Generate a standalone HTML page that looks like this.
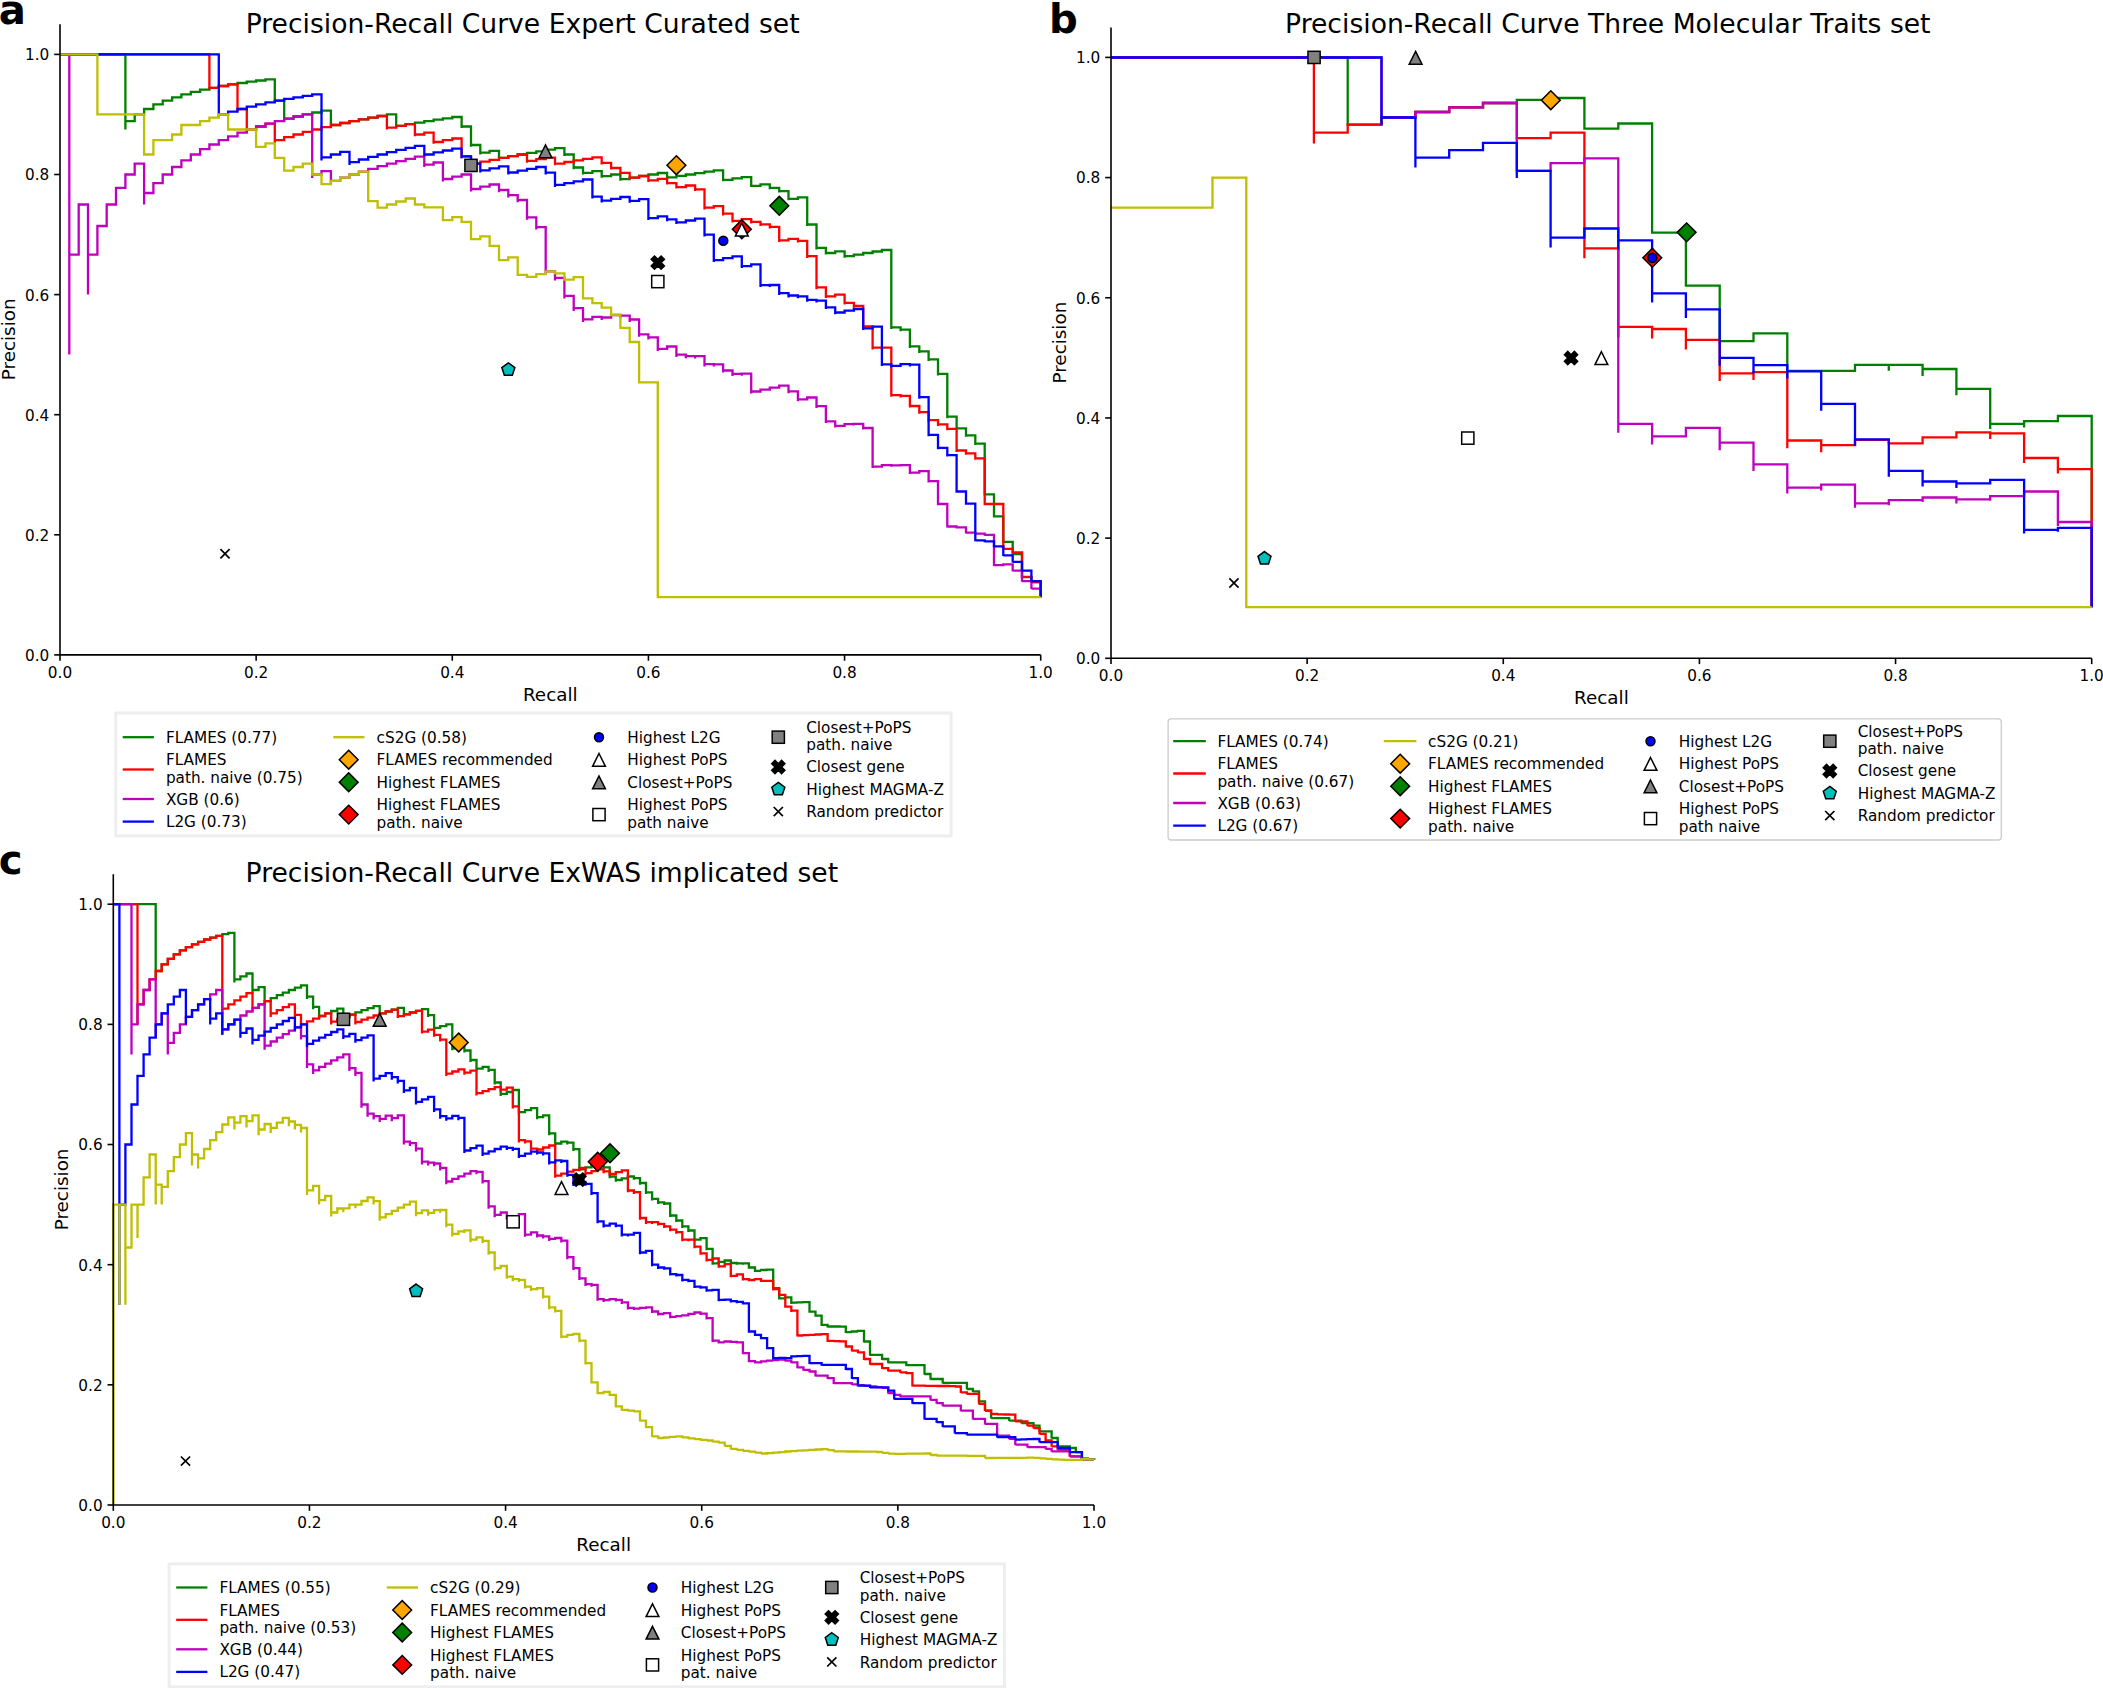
<!DOCTYPE html>
<html><head><meta charset="utf-8"><title>Precision-Recall Curves</title>
<style>html,body{margin:0;padding:0;background:#fff}svg{display:block}</style></head>
<body>
<svg width="2103" height="1688" viewBox="0 0 2103 1688" font-family="'DejaVu Sans', 'Liberation Sans', sans-serif">
<rect width="2103" height="1688" fill="#fff"/>
<path d="M60.0 54.4V54.4H69.3V54.4H78.7V54.4H88.0V54.4H97.4V54.4H106.7V54.4H116.0V54.4H125.4V129.5V121.1H134.7V114.4H144.1V109.0H153.4V104.4H162.7V100.6H172.1V97.3H181.4V94.4H190.8V91.9H200.1V89.7H209.4V87.8H218.8V86.0H228.1V84.4H237.5V83.0H246.8V81.7H256.1V80.5H265.5V79.4H274.8V102.4V100.6H284.2V121.1V118.7H293.5V116.5H302.8V114.4H312.2V112.5H321.5V110.7H330.9V127.2V125.0H340.2V123.0H349.5V121.1H358.9V119.3H368.2V117.6H377.6V116.0H386.9V114.4H396.2V127.6V125.9H405.6V124.2H414.9V122.6H424.3V121.1H433.6V119.7H442.9V118.3H452.3V117.0H461.6V127.9V126.5H471.0V146.8V145.0H480.3V154.5V152.7H489.6V150.9H499.0V159.8V157.9H508.3V156.2H517.7V154.5H527.0V152.8H536.3V151.3H545.7V149.7H555.0V148.2H564.4V156.0V154.5H573.7V169.2V167.5H583.0V174.5V172.8H592.4V171.2H601.7V177.8V176.1H611.1V174.5H620.4V180.8V179.2H629.7V177.6H639.1V176.0H648.4V174.5H657.8V173.0H667.1V178.9V177.4H676.4V175.9H685.8V174.5H695.1V173.1H704.5V171.7H713.8V170.4H723.1V181.2V179.8H732.5V178.4H741.8V177.1H751.2V187.1V185.8H760.5V184.4H769.8V189.2V187.8H779.2V192.5V191.1H788.5V200.2V198.8H797.9V197.4H807.2V226.0V224.5H816.5V249.6V247.9H825.9V254.6V253.0H835.2V251.4H844.6V257.7V256.1H853.9V254.6H863.2V253.0H872.6V251.5H881.9V250.0H891.3V329.0V327.4H900.6V331.3V329.6H909.9V347.9V346.3H919.3V353.0V351.4H928.6V361.0V359.4H938.0V375.5V373.9H947.3V418.2V416.7H956.6V429.7V428.3H966.0V436.7V435.3H975.3V445.1V443.7H984.7V495.5V494.3H994.0V517.5V516.4H1003.3V542.8V541.9H1012.7V554.8V554.0H1022.0V577.9V577.2H1031.4V582.6V582.0H1040.7V597.2" fill="none" stroke="#008000" stroke-width="2.3" stroke-linejoin="miter" stroke-linecap="butt"/>
<path d="M60.0 54.4V54.4H69.3V54.4H78.7V54.4H88.0V54.4H97.4V54.4H106.7V54.4H116.0V54.4H125.4V54.4H134.7V54.4H144.1V54.4H153.4V54.4H162.7V54.4H172.1V54.4H181.4V54.4H190.8V54.4H200.1V54.4H209.4V89.7V87.8H218.8V86.0H228.1V84.4H237.5V111.6V109.0H246.8V132.7V129.5H256.1V126.5H265.5V123.7H274.8V143.4V140.2H284.2V137.2H293.5V134.5H302.8V131.9H312.2V129.5H321.5V127.2H330.9V125.0H340.2V123.0H349.5V121.1H358.9V119.3H368.2V117.6H377.6V116.0H386.9V129.5V127.6H396.2V125.9H405.6V124.2H414.9V136.3V134.5H424.3V132.7H433.6V143.8V142.0H442.9V140.2H452.3V138.5H461.6V158.3V156.4H471.0V165.6V163.6H480.3V161.6H489.6V159.8H499.0V157.9H508.3V156.2H517.7V154.5H527.0V162.7V160.9H536.3V159.2H545.7V157.6H555.0V165.3V163.6H564.4V162.0H573.7V160.4H583.0V158.8H592.4V157.3H601.7V164.4V162.8H611.1V169.6V168.0H620.4V174.5V172.9H629.7V179.2V177.6H639.1V176.0H648.4V182.0V180.4H657.8V178.9H667.1V184.6V183.1H676.4V188.6V187.1H685.8V185.5H695.1V190.9V189.3H704.5V209.4V207.7H713.8V206.1H723.1V215.4V213.7H732.5V222.5V220.9H741.8V219.2H751.2V223.5V221.8H760.5V226.0V224.4H769.8V228.4V226.8H779.2V242.1V240.4H788.5V238.8H797.9V242.4V240.8H807.2V257.9V256.2H816.5V289.2V287.4H825.9V298.1V296.3H835.2V294.6H844.6V304.6V302.9H853.9V307.7V306.0H863.2V328.0V326.3H872.6V349.4V347.7H881.9V349.4V347.7H891.3V396.7V395.1H900.6V397.5V395.9H909.9V407.6V406.0H919.3V413.7V412.1H928.6V421.7V420.2H938.0V425.9V424.4H947.3V430.3V428.8H956.6V451.9V450.5H966.0V454.7V453.4H975.3V459.7V458.4H984.7V505.2V504.0H994.0V505.1V504.0H1003.3V549.8V548.9H1012.7V553.2V552.3H1022.0V577.6V576.9H1031.4V582.6V582.0H1040.7V597.2" fill="none" stroke="#ff0000" stroke-width="2.3" stroke-linejoin="miter" stroke-linecap="butt"/>
<path d="M60.0 54.4V54.4H69.3V354.6V254.6H78.7V204.5H88.0V294.6V254.6H97.4V226.0H106.7V204.5H116.0V187.8H125.4V174.5H134.7V163.6H144.1V204.5V193.0H153.4V183.1H162.7V174.5H172.1V167.0H181.4V160.4H190.8V154.5H200.1V149.2H209.4V144.5H218.8V140.2H228.1V136.3H237.5V132.7H246.8V129.5H256.1V126.5H265.5V123.7H274.8V121.1H284.2V118.7H293.5V116.5H302.8V114.4H312.2V178.0V174.5H321.5V171.2H330.9V184.2V180.8H340.2V177.6H349.5V174.5H358.9V171.6H368.2V168.8H377.6V166.1H386.9V163.6H396.2V161.2H405.6V158.8H414.9V156.6H424.3V167.0V164.7H433.6V162.5H442.9V181.4V179.0H452.3V176.7H461.6V174.5H471.0V191.4V189.0H480.3V186.7H489.6V184.5H499.0V192.2V190.0H508.3V197.4V195.1H517.7V202.2V200.0H527.0V219.8V217.4H536.3V229.5V227.1H545.7V274.1V271.4H555.0V280.5V277.8H564.4V298.6V295.9H573.7V310.9V308.2H583.0V321.9V319.3H592.4V316.8H601.7V320.0V317.5H611.1V315.0H620.4V318.2V315.7H629.7V321.9V319.5H639.1V336.7V334.3H648.4V339.6V337.3H657.8V351.1V348.8H667.1V346.5H676.4V356.9V354.6H685.8V358.3V356.1H695.1V358.4V356.2H704.5V366.4V364.2H713.8V366.4V364.3H723.1V372.5V370.5H732.5V376.0V373.9H741.8V375.7V373.7H751.2V393.5V391.5H760.5V389.6H769.8V387.6H779.2V385.7H788.5V393.2V391.3H797.9V401.2V399.4H807.2V397.5H816.5V408.0V406.2H825.9V423.1V421.3H835.2V427.5V425.8H844.6V424.1H853.9V425.5V423.8H863.2V429.6V428.0H872.6V468.0V466.6H881.9V465.1H891.3V466.7V465.3H900.6V466.6V465.2H909.9V474.0V472.6H919.3V471.2H928.6V482.4V481.1H938.0V505.2V504.0H947.3V527.6V526.5H956.6V528.4V527.3H966.0V533.6V532.7H975.3V534.6V533.6H984.7V535.8V534.8H994.0V565.9V565.1H1003.3V564.4H1012.7V571.3V570.6H1022.0V581.7V581.1H1031.4V589.1V588.6H1040.7V597.2" fill="none" stroke="#bf00bf" stroke-width="2.3" stroke-linejoin="miter" stroke-linecap="butt"/>
<path d="M60.0 54.4V54.4H69.3V54.4H78.7V54.4H88.0V54.4H97.4V54.4H106.7V54.4H116.0V54.4H125.4V54.4H134.7V54.4H144.1V54.4H153.4V54.4H162.7V54.4H172.1V54.4H181.4V54.4H190.8V54.4H200.1V54.4H209.4V54.4H218.8V117.6V114.4H228.1V111.6H237.5V109.0H246.8V106.6H256.1V104.4H265.5V102.4H274.8V100.6H284.2V98.9H293.5V97.3H302.8V95.8H312.2V94.4H321.5V160.4V157.3H330.9V154.5H340.2V151.8H349.5V165.0V162.2H358.9V159.5H368.2V156.9H377.6V154.5H386.9V152.2H396.2V149.9H405.6V147.8H414.9V145.8H424.3V156.6V154.5H433.6V152.4H442.9V150.5H452.3V148.6H461.6V158.3V156.4H471.0V165.6V163.6H480.3V172.4V170.3H489.6V168.3H499.0V166.4H508.3V174.5V172.5H517.7V170.6H527.0V168.8H536.3V167.0H545.7V174.5V172.7H555.0V186.9V184.9H564.4V183.1H573.7V181.3H583.0V179.5H592.4V198.5V196.6H601.7V202.6V200.7H611.1V198.8H620.4V197.0H629.7V202.7V200.9H639.1V199.1H648.4V220.1V218.2H657.8V216.3H667.1V221.2V219.4H676.4V224.1V222.3H685.8V220.5H695.1V218.7H704.5V236.4V234.6H713.8V262.0V260.1H723.1V258.2H732.5V256.4H741.8V268.0V266.1H751.2V264.3H760.5V286.9V285.1H769.8V286.9V285.0H779.2V295.1V293.2H788.5V297.4V295.5H797.9V298.2V296.4H807.2V301.7V299.9H816.5V302.4V300.6H825.9V309.1V307.3H835.2V314.2V312.5H844.6V310.7H853.9V309.0H863.2V330.1V328.4H872.6V326.7H881.9V366.1V364.4H891.3V367.6V365.9H900.6V364.2H909.9V366.4V364.7H919.3V398.8V397.2H928.6V436.3V434.8H938.0V449.3V447.9H947.3V456.5V455.1H956.6V492.7V491.5H966.0V504.8V503.6H975.3V541.3V540.4H984.7V542.3V541.4H994.0V547.3V546.4H1003.3V556.1V555.3H1012.7V562.5V561.8H1022.0V571.3V570.6H1031.4V581.7V581.1H1040.7V597.2" fill="none" stroke="#0000ff" stroke-width="2.3" stroke-linejoin="miter" stroke-linecap="butt"/>
<path d="M60.0 54.4V54.4H69.3V54.4H78.7V54.4H88.0V54.4H97.4V114.4H144.1V154.5H153.4V140.2H172.1V134.5H181.4V125.0H200.1V121.1H209.4V117.6H218.8V114.4H228.1V129.5H256.1V146.8H265.5V143.4H274.8V157.9H284.2V170.6H293.5V167.0H302.8V163.6H312.2V174.5H321.5V184.2H330.9V180.8H340.2V177.6H349.5V174.5H358.9V171.6H368.2V201.2H377.6V207.7H386.9V204.5H396.2V201.5H405.6V198.5H414.9V204.5H424.3V207.3H442.9V220.1H452.3V217.2H461.6V221.8H471.0V239.2H480.3V236.4H489.6V245.9H499.0V260.1H508.3V257.3H517.7V274.8H527.0V276.8H536.3V274.1H545.7V271.4H555.0V273.4H564.4V279.6H573.7V277.1H583.0V298.4H592.4V303.1H601.7V307.6H611.1V315.0H620.4V327.8H629.7V342.0H639.1V382.3H657.8V597.2H1040.7" fill="none" stroke="#bfbf00" stroke-width="2.3" stroke-linejoin="miter" stroke-linecap="butt"/>
<g stroke="#000" stroke-width="1.6" fill="none">
<path d="M60.0 24.3V654.9"/>
<path d="M60.0 654.9H1040.7"/>
<path d="M60.00 654.9v5.8"/>
<path d="M60.0 654.90h-5.8"/>
<path d="M256.14 654.9v5.8"/>
<path d="M60.0 534.80h-5.8"/>
<path d="M452.28 654.9v5.8"/>
<path d="M60.0 414.70h-5.8"/>
<path d="M648.42 654.9v5.8"/>
<path d="M60.0 294.60h-5.8"/>
<path d="M844.56 654.9v5.8"/>
<path d="M60.0 174.50h-5.8"/>
<path d="M1040.70 654.9v5.8"/>
<path d="M60.0 54.40h-5.8"/>
</g>
<g font-size="15.28" fill="#000">
<text x="60.00" y="677.70" text-anchor="middle">0.0</text>
<text x="49.30" y="660.80" text-anchor="end">0.0</text>
<text x="256.14" y="677.70" text-anchor="middle">0.2</text>
<text x="49.30" y="540.70" text-anchor="end">0.2</text>
<text x="452.28" y="677.70" text-anchor="middle">0.4</text>
<text x="49.30" y="420.60" text-anchor="end">0.4</text>
<text x="648.42" y="677.70" text-anchor="middle">0.6</text>
<text x="49.30" y="300.50" text-anchor="end">0.6</text>
<text x="844.56" y="677.70" text-anchor="middle">0.8</text>
<text x="49.30" y="180.40" text-anchor="end">0.8</text>
<text x="1040.70" y="677.70" text-anchor="middle">1.0</text>
<text x="49.30" y="60.30" text-anchor="end">1.0</text>
</g>
<path d="M1111.0 57.5H1347.7V124.6H1381.5V117.5H1415.4V112.0H1449.2V107.3H1483.0V103.0H1516.8V99.9H1550.6V98.0H1584.4V128.6H1618.3V123.5H1652.1V232.7H1685.9V285.6H1719.7V341.1H1753.5V333.4H1787.3V370.8H1855.0V364.9H1888.8V370.8V364.9H1922.6V376.0V369.0H1956.4V395.3V388.9H1990.2V428.9V423.8H2024.1V427.6V421.2H2057.9V416.0H2091.7V607.2" fill="none" stroke="#008000" stroke-width="2.3" stroke-linejoin="miter" stroke-linecap="butt"/>
<path d="M1111.0 57.5H1313.9V143.6V132.7H1347.7V124.6H1381.5V117.5H1415.4V112.0H1449.2V107.3H1483.0V103.0H1516.8V138.2H1550.6V132.7H1584.4V258.2V248.3H1618.3V337.3V326.9H1652.1V338.5V329.0H1685.9V349.6V339.8H1719.7V381.1V373.4H1753.5V379.9V372.1H1787.3V448.3V440.5H1821.2V452.2V445.2H1855.0V439.9H1888.8V443.3H1922.6V437.3H1956.4V432.4H1990.2V438.9V433.4H2024.1V463.1V458.0H2057.9V473.5V469.1H2091.7V607.2" fill="none" stroke="#ff0000" stroke-width="2.3" stroke-linejoin="miter" stroke-linecap="butt"/>
<path d="M1111.0 57.5H1381.5V117.5H1415.4V112.0H1449.2V107.3H1483.0V103.0H1516.8V170.8H1550.6V163.1H1584.4V158.4H1618.3V432.8V423.8H1652.1V444.5V436.3H1685.9V427.8H1719.7V450.2V442.7H1753.5V470.9V464.4H1787.3V493.6V487.7H1821.2V490.5V484.6H1855.0V507.8V503.4H1888.8V505.2V500.1H1922.6V501.9V497.5H1956.4V503.4V499.3H1990.2V500.8V496.2H2024.1V491.5H2057.9V525.9V522.0H2091.7V607.2" fill="none" stroke="#bf00bf" stroke-width="2.3" stroke-linejoin="miter" stroke-linecap="butt"/>
<path d="M1111.0 57.5H1381.5V125.1V117.5H1415.4V167.4V157.7H1449.2V150.1H1483.0V142.9H1516.8V177.9V170.8H1550.6V247.5V237.6H1584.4V228.5H1618.3V249.5V240.4H1652.1V302.4V293.4H1685.9V317.9V309.4H1719.7V365.7V357.9H1753.5V373.4V365.1H1787.3V378.6V371.3H1821.2V410.8V403.9H1855.0V445.8V439.4H1888.8V476.8V470.9H1922.6V486.6V481.5H1956.4V487.9V483.3H1990.2V479.9H2024.1V533.6V529.8H2057.9V531.8V527.9H2091.7V607.2" fill="none" stroke="#0000ff" stroke-width="2.3" stroke-linejoin="miter" stroke-linecap="butt"/>
<path d="M1111.0 207.7H1212.5V177.6H1246.3V607.2H2091.7" fill="none" stroke="#bfbf00" stroke-width="2.3" stroke-linejoin="miter" stroke-linecap="butt"/>
<g stroke="#000" stroke-width="1.6" fill="none">
<path d="M1111.0 27.4V658.3"/>
<path d="M1111.0 658.3H2091.7"/>
<path d="M1111.00 658.3v5.8"/>
<path d="M1111.0 658.30h-5.8"/>
<path d="M1307.14 658.3v5.8"/>
<path d="M1111.0 538.12h-5.8"/>
<path d="M1503.28 658.3v5.8"/>
<path d="M1111.0 417.94h-5.8"/>
<path d="M1699.42 658.3v5.8"/>
<path d="M1111.0 297.76h-5.8"/>
<path d="M1895.56 658.3v5.8"/>
<path d="M1111.0 177.58h-5.8"/>
<path d="M2091.70 658.3v5.8"/>
<path d="M1111.0 57.40h-5.8"/>
</g>
<g font-size="15.28" fill="#000">
<text x="1111.00" y="681.10" text-anchor="middle">0.0</text>
<text x="1100.30" y="664.20" text-anchor="end">0.0</text>
<text x="1307.14" y="681.10" text-anchor="middle">0.2</text>
<text x="1100.30" y="544.02" text-anchor="end">0.2</text>
<text x="1503.28" y="681.10" text-anchor="middle">0.4</text>
<text x="1100.30" y="423.84" text-anchor="end">0.4</text>
<text x="1699.42" y="681.10" text-anchor="middle">0.6</text>
<text x="1100.30" y="303.66" text-anchor="end">0.6</text>
<text x="1895.56" y="681.10" text-anchor="middle">0.8</text>
<text x="1100.30" y="183.48" text-anchor="end">0.8</text>
<text x="2091.70" y="681.10" text-anchor="middle">1.0</text>
<text x="1100.30" y="63.30" text-anchor="end">1.0</text>
</g>
<path d="M113.3 904.2V904.2H119.4V904.2H125.4V904.2H131.5V904.2H137.5V904.2H143.6V904.2H149.6V904.2H155.7V979.3V971.0H161.7V964.3H167.8V958.8H173.8V954.3H179.9V950.4H185.9V947.1H192.0V944.3H198.1V941.8H204.1V939.5H210.2V937.6H216.2V935.8H222.3V934.2H228.3V932.8H234.4V982.6V979.3H240.4V976.3H246.5V973.5H252.5V993.2V990.0H258.6V987.1H264.6V1004.3V1001.1H270.7V998.1H276.8V995.2H282.8V992.6H288.9V990.0H294.9V987.6H301.0V985.4H307.0V999.1V996.6H313.1V1009.3V1006.8H319.1V1018.6V1016.0H325.2V1013.4H331.2V1011.0H337.3V1008.7H343.3V1019.2V1016.9H349.4V1014.6H355.4V1012.3H361.5V1010.2H367.6V1008.2H373.6V1006.2H379.7V1015.5V1013.4H385.7V1011.5H391.8V1009.6H397.8V1007.8H403.9V1016.2V1014.3H409.9V1012.5H416.0V1010.8H422.0V1009.1H428.1V1016.9V1015.1H434.1V1029.7V1027.9H440.2V1026.1H446.3V1024.4H452.3V1050.3V1048.4H458.4V1046.5H464.4V1052.4V1050.5H470.5V1061.9V1060.0H476.5V1070.7V1068.7H482.6V1066.8H488.6V1071.9V1069.9H494.7V1084.4V1082.5H500.7V1095.9V1093.9H506.8V1092.0H512.8V1090.0H518.9V1114.2V1112.2H525.0V1110.2H531.0V1108.2H537.1V1119.2V1117.2H543.1V1115.3H549.2V1135.3V1133.3H555.2V1145.5V1143.5H561.3V1141.6H567.3V1144.5V1142.6H573.4V1151.0V1149.1H579.4V1171.2V1169.3H585.5V1167.4H591.5V1165.6H597.6V1163.7H603.6V1169.1V1167.3H609.7V1178.3V1176.5H615.8V1181.8V1180.0H621.8V1178.3H627.9V1176.5H633.9V1179.8V1178.1H640.0V1184.7V1183.0H646.0V1194.0V1192.3H652.1V1200.5V1198.8H658.1V1203.9V1202.3H664.2V1205.1V1203.5H670.2V1217.1V1215.5H676.3V1222.1V1220.5H682.3V1227.9V1226.3H688.4V1232.0V1230.5H694.5V1241.2V1239.6H700.5V1238.1H706.6V1250.3V1248.8H712.6V1264.8V1263.3H718.7V1261.9H724.7V1260.5H730.8V1264.4V1263.0H736.8V1264.7V1263.3H742.9V1264.7V1263.3H748.9V1268.8V1267.5H755.0V1272.1V1270.8H761.0V1271.3V1270.0H767.1V1270.9V1269.6H773.2V1289.5V1288.2H779.2V1299.5V1298.3H785.3V1298.7V1297.4H791.3V1303.9V1302.7H797.4V1303.6V1302.4H803.4V1303.3V1302.1H809.5V1312.7V1311.6H815.5V1316.8V1315.7H821.6V1326.0V1324.9H827.6V1327.6V1326.5H833.7V1327.6V1326.5H839.7V1327.6V1326.6H845.8V1333.1V1332.1H851.9V1332.5V1331.5H857.9V1331.9V1330.9H864.0V1342.5V1341.5H870.0V1355.7V1354.8H876.1V1355.7V1354.8H882.1V1359.9V1359.0H888.2V1363.2V1362.3H894.2V1363.2V1362.3H900.3V1363.1V1362.3H906.3V1366.0V1365.2H912.4V1366.0V1365.2H918.4V1366.0V1365.2H924.5V1374.7V1374.0H930.5V1379.7V1379.0H936.6V1379.7V1379.0H942.7V1383.5V1382.8H948.7V1383.5V1382.8H954.8V1383.5V1382.8H960.8V1383.5V1382.8H966.9V1389.6V1389.0H972.9V1392.1V1391.4H979.0V1402.0V1401.4H985.0V1411.1V1410.6H991.1V1418.6V1418.1H997.1V1418.6V1418.1H1003.2V1418.6V1418.1H1009.2V1421.1V1420.6H1015.3V1421.1V1420.6H1021.4V1423.5V1423.1H1027.4V1423.5V1423.1H1033.5V1426.0V1425.6H1039.5V1431.8V1431.4H1045.6V1431.8V1431.4H1051.6V1438.4V1438.0H1057.7V1446.7V1446.4H1063.7V1446.7V1446.4H1069.8V1448.4V1448.0H1075.8V1452.5V1452.2H1081.9V1459.3V1459.0H1087.9V1459.8V1459.5H1094.0V1459.7" fill="none" stroke="#008000" stroke-width="2.3" stroke-linejoin="miter" stroke-linecap="butt"/>
<path d="M113.3 904.2V904.2H119.4V904.2H125.4V904.2H131.5V904.2H137.5V1024.4V1004.3H143.6V990.0H149.6V979.3H155.7V971.0H161.7V964.3H167.8V958.8H173.8V954.3H179.9V950.4H185.9V947.1H192.0V944.3H198.1V941.8H204.1V939.5H210.2V937.6H216.2V935.8H222.3V1013.4V1008.7H228.3V1004.3H234.4V1000.3H240.4V996.6H246.5V993.2H252.5V1011.5V1007.8H258.6V1004.3H264.6V1001.1H270.7V1016.9V1013.4H276.8V1010.2H282.8V1007.2H288.9V1004.3H294.9V1017.9V1014.9H301.0V1027.4V1024.4H307.0V1021.4H313.1V1018.6H319.1V1016.0H325.2V1013.4H331.2V1024.4V1021.7H337.3V1019.2H343.3V1016.9H349.4V1014.6H355.4V1024.4V1022.0H361.5V1019.7H367.6V1017.6H373.6V1015.5H379.7V1013.4H385.7V1011.5H391.8V1009.6H397.8V1018.1V1016.2H403.9V1014.3H409.9V1012.5H416.0V1010.8H422.0V1033.6V1031.6H428.1V1029.7H434.1V1036.7V1034.8H440.2V1041.5V1039.6H446.3V1075.9V1073.7H452.3V1071.5H458.4V1069.4H464.4V1074.8V1072.7H470.5V1070.7H476.5V1095.4V1093.2H482.6V1091.1H488.6V1089.1H494.7V1087.1H500.7V1091.5V1089.6H506.8V1087.6H512.8V1108.5V1106.4H518.9V1142.4V1140.2H525.0V1143.5V1141.4H531.0V1150.7V1148.6H537.1V1151.6V1149.5H543.1V1147.5H549.2V1145.5H555.2V1177.7V1175.7H561.3V1173.7H567.3V1171.7H573.4V1169.8H579.4V1167.9H585.5V1175.0V1173.1H591.5V1171.2H597.6V1169.4H603.6V1173.3V1171.4H609.7V1175.7V1173.9H615.8V1172.1H621.8V1170.3H627.9V1192.3V1190.5H633.9V1193.9V1192.2H640.0V1219.7V1218.0H646.0V1223.9V1222.2H652.1V1223.9V1222.2H658.1V1225.6V1223.9H664.2V1228.0V1226.4H670.2V1231.2V1229.6H676.3V1233.8V1232.2H682.3V1241.2V1239.7H688.4V1241.2V1239.7H694.5V1248.2V1246.7H700.5V1254.8V1253.3H706.6V1261.4V1259.9H712.6V1258.5H718.7V1267.7V1266.3H724.7V1264.1H730.8V1277.2V1275.8H736.8V1274.4H742.9V1280.5V1279.1H748.9V1281.3V1280.0H755.0V1280.4V1279.1H761.0V1282.1V1280.8H767.1V1282.1V1280.8H773.2V1290.4V1289.1H779.2V1296.1V1294.9H785.3V1307.8V1306.6H791.3V1311.9V1310.7H797.4V1336.6V1335.5H803.4V1336.3V1335.2H809.5V1335.9V1334.9H815.5V1335.6V1334.5H821.6V1335.2V1334.1H827.6V1341.9V1340.9H833.7V1342.1V1341.1H839.7V1342.4V1341.4H845.8V1347.5V1346.5H851.9V1351.6V1350.7H857.9V1353.3V1352.3H864.0V1359.9V1359.0H870.0V1364.8V1364.0H876.1V1364.8V1364.0H882.1V1369.0V1368.1H888.2V1371.5V1370.7H894.2V1371.4V1370.6H900.3V1373.1V1372.3H906.3V1373.9V1373.2H912.4V1386.4V1385.7H918.4V1386.5V1385.7H924.5V1386.5V1385.8H930.5V1386.6V1385.9H936.6V1386.7V1386.0H942.7V1386.7V1386.0H948.7V1386.8V1386.1H954.8V1387.1V1386.5H960.8V1392.9V1392.3H966.9V1394.6V1393.9H972.9V1394.6V1393.9H979.0V1404.5V1403.9H985.0V1411.1V1410.6H991.1V1414.6V1414.0H997.1V1414.8V1414.3H1003.2V1415.0V1414.5H1009.2V1415.2V1414.7H1015.3V1421.9V1421.4H1021.4V1421.9V1421.4H1027.4V1426.0V1425.6H1033.5V1428.5V1428.1H1039.5V1434.3V1433.9H1045.6V1440.9V1440.5H1051.6V1446.7V1446.4H1057.7V1450.0V1449.7H1063.7V1450.0V1449.7H1069.8V1456.6V1456.4H1075.8V1456.6V1456.4H1081.9V1459.3V1459.0H1087.9V1459.8V1459.5H1094.0V1459.7" fill="none" stroke="#ff0000" stroke-width="2.3" stroke-linejoin="miter" stroke-linecap="butt"/>
<path d="M113.3 904.2V904.2H119.4V904.2H125.4V904.2H131.5V1054.4V1024.4H137.5V1004.3H143.6V990.0H149.6V979.3H155.7V1037.7V1024.4H161.7V1013.4H167.8V1054.4V1042.8H173.8V1032.9H179.9V1024.4H185.9V1016.9H192.0V1010.2H198.1V1004.3H204.1V999.1H210.2V994.3H216.2V990.0H222.3V1034.8V1029.4H228.3V1024.4H234.4V1019.7H240.4V1015.5H246.5V1011.5H252.5V1007.8H258.6V1004.3H264.6V1049.8V1045.6H270.7V1041.5H276.8V1037.7H282.8V1034.1H288.9V1030.7H294.9V1027.4H301.0V1039.4V1036.1H307.0V1068.1V1064.4H313.1V1074.0V1070.4H319.1V1066.9H325.2V1063.6H331.2V1060.4H337.3V1057.3H343.3V1054.4H349.4V1071.1V1068.1H355.4V1075.9V1072.8H361.5V1107.7V1104.5H367.6V1116.8V1113.6H373.6V1119.4V1116.2H379.7V1121.9V1118.8H385.7V1115.7H391.8V1121.2V1118.2H397.8V1115.3H403.9V1144.5V1141.6H409.9V1146.0V1143.1H416.0V1151.6V1148.7H422.0V1164.5V1161.7H428.1V1165.4V1162.6H434.1V1166.3V1163.5H440.2V1170.5V1167.8H446.3V1184.2V1181.5H452.3V1178.9H458.4V1176.3H464.4V1173.7H470.5V1171.2H476.5V1174.3V1171.8H482.6V1183.5V1181.1H488.6V1208.7V1206.3H494.7V1217.2V1214.8H500.7V1212.5H506.8V1219.5V1217.2H512.8V1218.7V1216.4H518.9V1214.2H525.0V1236.8V1234.6H531.0V1232.4H537.1V1237.6V1235.5H543.1V1238.4V1236.3H549.2V1240.9V1238.9H555.2V1240.0V1238.0H561.3V1242.5V1240.6H567.3V1259.2V1257.2H573.4V1270.1V1268.2H579.4V1280.1V1278.3H585.5V1285.9V1284.1H591.5V1286.7V1284.9H597.6V1300.7V1299.1H603.6V1301.9V1300.2H609.7V1300.7V1299.1H615.8V1301.5V1299.9H621.8V1304.0V1302.4H627.9V1309.4V1307.9H633.9V1310.1V1308.6H640.0V1309.4V1307.9H646.0V1308.9V1307.4H652.1V1313.0V1311.5H658.1V1315.5V1314.0H664.2V1314.6V1313.2H670.2V1318.3V1316.9H676.3V1317.6V1316.2H682.3V1316.6V1315.3H688.4V1313.9H694.5V1312.5H700.5V1314.9V1313.6H706.6V1319.5V1318.2H712.6V1341.9V1340.7H718.7V1343.5V1342.4H724.7V1342.7V1341.5H730.8V1343.0V1341.9H736.8V1343.5V1342.4H742.9V1354.3V1353.2H748.9V1362.2V1361.1H755.0V1363.4V1362.3H761.0V1361.3H767.1V1361.7V1360.7H773.2V1361.2V1360.2H779.2V1360.5V1359.5H785.3V1361.6V1360.7H791.3V1363.3V1362.3H797.4V1368.3V1367.3H803.4V1370.7V1369.8H809.5V1372.4V1371.5H815.5V1376.5V1375.6H821.6V1376.5V1375.6H827.6V1379.0V1378.1H833.7V1383.9V1383.1H839.7V1383.9V1383.1H845.8V1383.9V1383.1H851.9V1385.1V1384.3H857.9V1385.8V1385.1H864.0V1386.5V1385.8H870.0V1387.2V1386.5H876.1V1387.9V1387.2H882.1V1388.6V1387.9H888.2V1393.8V1393.1H894.2V1395.5V1394.8H900.3V1397.1V1396.4H906.3V1397.1V1396.4H912.4V1397.1V1396.4H918.4V1397.1V1396.4H924.5V1397.1V1396.4H930.5V1400.4V1399.8H936.6V1403.7V1403.1H942.7V1406.2V1405.6H948.7V1406.2V1405.6H954.8V1406.2V1405.6H960.8V1411.2V1410.6H966.9V1411.1V1410.6H972.9V1419.4V1418.9H979.0V1419.4V1418.9H985.0V1424.4V1423.9H991.1V1424.4V1423.9H997.1V1436.0V1435.6H1003.2V1436.0V1435.6H1009.2V1439.3V1438.9H1015.3V1445.1V1444.7H1021.4V1445.1V1444.7H1027.4V1447.5V1447.2H1033.5V1447.5V1447.2H1039.5V1447.5V1447.2H1045.6V1449.2V1448.9H1051.6V1451.7V1451.4H1057.7V1451.7V1451.4H1063.7V1451.7V1451.4H1069.8V1456.6V1456.4H1075.8V1456.6V1456.4H1081.9V1459.3V1459.0H1087.9V1459.8V1459.5H1094.0V1459.7" fill="none" stroke="#bf00bf" stroke-width="2.3" stroke-linejoin="miter" stroke-linecap="butt"/>
<path d="M113.3 904.2V904.2H119.4V1304.7V1204.6H125.4V1144.5H131.5V1104.5H137.5V1075.9H143.6V1054.4H149.6V1037.7H155.7V1024.4H161.7V1013.4H167.8V1004.3H173.8V996.6H179.9V990.0H185.9V1024.4V1016.9H192.0V1010.2H198.1V1004.3H204.1V999.1H210.2V1024.4V1018.6H216.2V1013.4H222.3V1034.8V1029.4H228.3V1024.4H234.4V1019.7H240.4V1037.7V1032.9H246.5V1028.5H252.5V1044.4V1039.9H258.6V1035.6H264.6V1031.6H270.7V1027.9H276.8V1024.4H282.8V1021.0H288.9V1017.9H294.9V1030.7V1027.4H301.0V1024.4H307.0V1047.2V1043.9H313.1V1040.7H319.1V1037.7H325.2V1034.8H331.2V1032.0H337.3V1029.4H343.3V1039.1V1036.4H349.4V1033.8H355.4V1042.8V1040.2H361.5V1037.7H367.6V1035.3H373.6V1081.5V1078.6H379.7V1075.9H385.7V1073.2H391.8V1079.8V1077.2H397.8V1083.5V1080.9H403.9V1093.0V1090.4H409.9V1087.8H416.0V1104.5V1101.8H422.0V1099.3H428.1V1096.8H434.1V1111.9V1109.4H440.2V1118.8V1116.2H446.3V1120.8V1118.3H452.3V1115.8H458.4V1120.2V1117.8H464.4V1153.0V1150.5H470.5V1148.1H476.5V1145.7H482.6V1156.0V1153.6H488.6V1151.3H494.7V1149.0H500.7V1146.7H506.8V1150.0V1147.8H512.8V1151.0V1148.8H518.9V1158.0V1155.8H525.0V1153.7H531.0V1151.6H537.1V1154.5V1152.5H543.1V1155.4V1153.3H549.2V1164.4V1162.4H555.2V1160.4H561.3V1163.0V1161.0H567.3V1176.8V1174.8H573.4V1185.9V1184.0H579.4V1182.0H585.5V1185.8V1183.9H591.5V1195.0V1193.1H597.6V1223.3V1221.4H603.6V1227.4V1225.6H609.7V1223.7H615.8V1227.3V1225.6H621.8V1236.4V1234.7H627.9V1236.4V1234.6H633.9V1232.9H640.0V1254.2V1252.5H646.0V1250.9H652.1V1266.3V1264.7H658.1V1269.1V1267.5H664.2V1269.8V1268.3H670.2V1275.6V1274.1H676.3V1276.5V1275.0H682.3V1281.4V1279.9H688.4V1282.2V1280.8H694.5V1288.0V1286.6H700.5V1288.8V1287.4H706.6V1291.8V1290.4H712.6V1291.3V1289.9H718.7V1301.3V1299.9H724.7V1300.9V1299.6H730.8V1302.6V1301.2H736.8V1303.2V1301.9H742.9V1304.5V1303.3H748.9V1332.7V1331.5H755.0V1336.0V1334.8H761.0V1339.3V1338.2H767.1V1349.2V1348.2H773.2V1359.2V1358.2H779.2V1358.8V1357.8H785.3V1359.2V1358.2H791.3V1356.3H797.4V1357.1V1356.1H803.4V1356.8V1355.8H809.5V1364.1V1363.1H815.5V1364.1V1363.2H821.6V1365.7V1364.8H827.6V1365.7V1364.8H833.7V1365.7V1364.8H839.7V1365.7V1364.8H845.8V1369.9V1369.0H851.9V1379.0V1378.1H857.9V1386.4V1385.6H864.0V1386.4V1385.6H870.0V1388.0V1387.3H876.1V1388.0V1387.3H882.1V1388.0V1387.3H888.2V1391.3V1390.6H894.2V1399.6V1398.9H900.3V1399.6V1398.9H906.3V1399.6V1398.9H912.4V1403.7V1403.1H918.4V1403.7V1403.1H924.5V1419.5V1418.9H930.5V1419.5V1418.9H936.6V1422.8V1422.2H942.7V1426.9V1426.4H948.7V1426.9V1426.4H954.8V1433.5V1433.1H960.8V1433.5V1433.1H966.9V1435.2V1434.7H972.9V1435.2V1434.7H979.0V1435.2V1434.7H985.0V1435.2V1434.7H991.1V1435.1V1434.7H997.1V1437.6V1437.2H1003.2V1437.6V1437.2H1009.2V1437.6V1437.2H1015.3V1440.0V1439.6H1021.4V1439.8V1439.4H1027.4V1439.6V1439.2H1033.5V1439.3V1439.0H1039.5V1442.6V1442.2H1045.6V1442.6V1442.2H1051.6V1442.6V1442.2H1057.7V1448.4V1448.0H1063.7V1448.4V1448.0H1069.8V1452.5V1452.2H1075.8V1452.5V1452.2H1081.9V1459.3V1459.0H1087.9V1459.8V1459.5H1094.0V1459.7" fill="none" stroke="#0000ff" stroke-width="2.3" stroke-linejoin="miter" stroke-linecap="butt"/>
<path d="M113.3 1505.0V1505.0V1204.6H119.4V1304.7V1204.6H125.4V1304.7V1247.5H131.5V1204.6H137.5V1238.0V1204.6H143.6V1177.3H149.6V1154.5H155.7V1204.6V1184.6H161.7V1204.6V1186.9H167.8V1171.2H173.8V1157.2H179.9V1144.5H185.9V1133.1H192.0V1165.4V1154.5H198.1V1168.6V1158.4H204.1V1149.0H210.2V1140.2H216.2V1132.1H222.3V1124.5H228.3V1117.4H234.4V1129.5V1122.7H240.4V1116.2H246.5V1127.4V1121.2H252.5V1115.3H258.6V1135.3V1129.5H264.6V1124.0H270.7V1133.1V1127.8H276.8V1122.7H282.8V1117.8H288.9V1126.2V1121.5H294.9V1129.5V1124.9H301.0V1132.5V1128.0H307.0V1194.9V1190.3H313.1V1185.8H319.1V1204.6V1200.2H325.2V1196.0H331.2V1216.6V1212.5H337.3V1208.5H343.3V1212.3V1208.4H349.4V1204.6H355.4V1208.3V1204.6H361.5V1201.0H367.6V1197.4H373.6V1204.6V1201.1H379.7V1220.8V1217.4H385.7V1214.1H391.8V1210.9H397.8V1207.7H403.9V1204.6H409.9V1201.6H416.0V1216.2V1213.2H422.0V1210.3H428.1V1215.7V1212.9H434.1V1210.1H440.2V1212.7V1210.0H446.3V1227.3V1224.6H452.3V1236.5V1233.9H458.4V1231.3H464.4V1233.0V1230.4H470.5V1242.2V1239.7H476.5V1237.3H482.6V1243.2V1240.8H488.6V1254.8V1252.5H494.7V1270.5V1268.2H500.7V1266.0H506.8V1278.7V1276.6H512.8V1281.2V1279.1H518.9V1282.0V1279.9H525.0V1288.6V1286.6H531.0V1291.1V1289.1H537.1V1290.2V1288.2H543.1V1298.5V1296.6H549.2V1309.3V1307.4H555.2V1312.6V1310.8H561.3V1338.2V1336.6H567.3V1334.9H573.4V1335.6V1334.0H579.4V1342.2V1340.7H585.5V1364.5V1363.1H591.5V1383.5V1382.3H597.6V1394.3V1393.1H603.6V1391.8H609.7V1395.9V1394.8H615.8V1407.4V1406.4H621.8V1410.7V1409.8H627.9V1411.5V1410.6H633.9V1412.3V1411.4H640.0V1421.4V1420.6H646.0V1428.0V1427.2H652.1V1437.1V1436.4H658.1V1438.7V1438.0H664.2V1438.1V1437.5H670.2V1437.6V1436.9H676.3V1437.0V1436.4H682.3V1438.0V1437.4H688.4V1439.0V1438.4H694.5V1439.7V1439.1H700.5V1440.4V1439.8H706.6V1441.1V1440.5H712.6V1442.2V1441.6H718.7V1443.3V1442.7H724.7V1446.3V1445.8H730.8V1449.4V1448.9H736.8V1450.3V1449.8H742.9V1451.2V1450.8H748.9V1452.2V1451.7H755.0V1453.1V1452.6H761.0V1454.0V1453.5H767.1V1453.1H773.2V1452.7H779.2V1452.2H785.3V1451.5H791.3V1451.6V1451.1H797.4V1451.2V1450.7H803.4V1450.8V1450.3H809.5V1450.4V1449.9H815.5V1449.9V1449.5H821.6V1449.5V1449.1H827.6V1450.5V1450.1H833.7V1451.8V1451.4H839.7V1451.8V1451.4H845.8V1451.9V1451.5H851.9V1451.9V1451.5H857.9V1452.0V1451.6H864.0V1452.0V1451.6H870.0V1452.1V1451.7H876.1V1452.4V1452.0H882.1V1453.2V1452.8H888.2V1454.0V1453.6H894.2V1454.2V1453.8H900.3V1454.1V1453.8H906.3V1454.1V1453.7H912.4V1454.0V1453.7H918.4V1454.0V1453.6H924.5V1453.9V1453.5H930.5V1455.4V1455.0H936.6V1455.9V1455.6H942.7V1455.9V1455.6H948.7V1456.0V1455.6H954.8V1456.0V1455.7H960.8V1456.0V1455.7H966.9V1456.1V1455.8H972.9V1456.1V1455.8H979.0V1456.2V1455.9H985.0V1458.3V1458.0H991.1V1458.3V1458.0H997.1V1458.2V1457.9H1003.2V1458.2V1457.9H1009.2V1458.1V1457.8H1015.3V1458.1V1457.8H1021.4V1458.0V1457.8H1027.4V1458.0V1457.7H1033.5V1458.1V1457.8H1039.5V1458.6V1458.4H1045.6V1459.2V1458.9H1051.6V1459.7V1459.4H1057.7V1460.0V1459.7H1063.7V1460.0V1459.8H1069.8V1460.1V1459.8H1075.8V1460.1V1459.9H1081.9V1459.0H1087.9V1459.8V1459.5H1094.0V1459.7" fill="none" stroke="#bfbf00" stroke-width="2.3" stroke-linejoin="miter" stroke-linecap="butt"/>
<g stroke="#000" stroke-width="1.6" fill="none">
<path d="M113.3 874.3V1505.0"/>
<path d="M113.3 1505.0H1094.0"/>
<path d="M113.30 1505.0v5.8"/>
<path d="M113.3 1505.00h-5.8"/>
<path d="M309.44 1505.0v5.8"/>
<path d="M113.3 1384.84h-5.8"/>
<path d="M505.58 1505.0v5.8"/>
<path d="M113.3 1264.68h-5.8"/>
<path d="M701.72 1505.0v5.8"/>
<path d="M113.3 1144.52h-5.8"/>
<path d="M897.86 1505.0v5.8"/>
<path d="M113.3 1024.36h-5.8"/>
<path d="M1094.00 1505.0v5.8"/>
<path d="M113.3 904.20h-5.8"/>
</g>
<g font-size="15.28" fill="#000">
<text x="113.30" y="1527.80" text-anchor="middle">0.0</text>
<text x="102.60" y="1510.90" text-anchor="end">0.0</text>
<text x="309.44" y="1527.80" text-anchor="middle">0.2</text>
<text x="102.60" y="1390.74" text-anchor="end">0.2</text>
<text x="505.58" y="1527.80" text-anchor="middle">0.4</text>
<text x="102.60" y="1270.58" text-anchor="end">0.4</text>
<text x="701.72" y="1527.80" text-anchor="middle">0.6</text>
<text x="102.60" y="1150.42" text-anchor="end">0.6</text>
<text x="897.86" y="1527.80" text-anchor="middle">0.8</text>
<text x="102.60" y="1030.26" text-anchor="end">0.8</text>
<text x="1094.00" y="1527.80" text-anchor="middle">1.0</text>
<text x="102.60" y="910.10" text-anchor="end">1.0</text>
</g>
<path d="M220.4 549.1999999999999L229.6 558.4M220.4 558.4L229.6 549.1999999999999" stroke="#000" stroke-width="1.7" fill="none"/>
<path d="M508.35 362.85L514.86 367.58L512.38 375.24L504.32 375.24L501.84 367.58Z" fill="#00bfbf" stroke="#000" stroke-width="1.5"/>
<path d="M651.20 259.30L654.50 256.00L657.80 259.30L661.10 256.00L664.40 259.30L661.10 262.60L664.40 265.90L661.10 269.20L657.80 265.90L654.50 269.20L651.20 265.90L654.50 262.60Z" fill="#000" stroke="#000" stroke-width="1.5" stroke-linejoin="miter"/>
<rect x="651.6999999999999" y="275.5" width="12.2" height="12.2" fill="#fff" stroke="#000" stroke-width="1.5"/>
<rect x="464.9" y="159.3" width="12.2" height="12.2" fill="#808080" stroke="#000" stroke-width="1.5"/>
<path d="M545.5 144.9L551.9 157.70000000000002L539.1 157.70000000000002Z" fill="#808080" stroke="#000" stroke-width="1.5"/>
<circle cx="723.3" cy="240.8" r="4.5" fill="#0000ff" stroke="#000" stroke-width="1.5"/>
<path d="M741.8 219.9L751.1999999999999 229.3L741.8 238.70000000000002L732.4 229.3Z" fill="#ff0000" stroke="#000" stroke-width="1.5" stroke-linejoin="miter"/>
<path d="M741.8 223.2L748.1999999999999 236.0L735.4 236.0Z" fill="#ffffff" stroke="#000" stroke-width="1.5"/>
<path d="M779.3 196.4L788.6999999999999 205.8L779.3 215.20000000000002L769.9 205.8Z" fill="#008000" stroke="#000" stroke-width="1.5" stroke-linejoin="miter"/>
<path d="M676.4 155.79999999999998L685.8 165.2L676.4 174.6L667.0 165.2Z" fill="#ffa500" stroke="#000" stroke-width="1.5" stroke-linejoin="miter"/>
<path d="M1229.3500000000001 578.4L1238.55 587.6M1229.3500000000001 587.6L1238.55 578.4" stroke="#000" stroke-width="1.7" fill="none"/>
<path d="M1264.50 551.55L1271.01 556.28L1268.53 563.94L1260.47 563.94L1257.99 556.28Z" fill="#00bfbf" stroke="#000" stroke-width="1.5"/>
<rect x="1461.7" y="432.0" width="12.2" height="12.2" fill="#fff" stroke="#000" stroke-width="1.5"/>
<path d="M1564.45 354.70L1567.75 351.40L1571.05 354.70L1574.35 351.40L1577.65 354.70L1574.35 358.00L1577.65 361.30L1574.35 364.60L1571.05 361.30L1567.75 364.60L1564.45 361.30L1567.75 358.00Z" fill="#000" stroke="#000" stroke-width="1.5" stroke-linejoin="miter"/>
<path d="M1601.4 351.75L1607.8000000000002 364.54999999999995L1595.0 364.54999999999995Z" fill="#ffffff" stroke="#000" stroke-width="1.5"/>
<path d="M1652.3 248.4L1661.7 257.8L1652.3 267.2L1642.8999999999999 257.8Z" fill="#ff0000" stroke="#000" stroke-width="1.5" stroke-linejoin="miter"/>
<circle cx="1652.3" cy="257.8" r="4.5" fill="#0000ff" stroke="#000" stroke-width="1.5"/>
<path d="M1686.6 222.95L1696.0 232.35L1686.6 241.75L1677.1999999999998 232.35Z" fill="#008000" stroke="#000" stroke-width="1.5" stroke-linejoin="miter"/>
<path d="M1550.8 90.8L1560.2 100.2L1550.8 109.60000000000001L1541.3999999999999 100.2Z" fill="#ffa500" stroke="#000" stroke-width="1.5" stroke-linejoin="miter"/>
<rect x="1307.95" y="51.3" width="12.2" height="12.2" fill="#808080" stroke="#000" stroke-width="1.5"/>
<path d="M1415.6 51.4L1422.0 64.2L1409.1999999999998 64.2Z" fill="#808080" stroke="#000" stroke-width="1.5"/>
<path d="M180.9 1456.5L190.1 1465.6999999999998M180.9 1465.6999999999998L190.1 1456.5" stroke="#000" stroke-width="1.7" fill="none"/>
<path d="M416.10 1284.05L422.61 1288.78L420.13 1296.44L412.07 1296.44L409.59 1288.78Z" fill="#00bfbf" stroke="#000" stroke-width="1.5"/>
<rect x="507.0" y="1215.7" width="12.2" height="12.2" fill="#fff" stroke="#000" stroke-width="1.5"/>
<path d="M561.5 1181.6499999999999L567.9 1194.45L555.1 1194.45Z" fill="#ffffff" stroke="#000" stroke-width="1.5"/>
<circle cx="579.4" cy="1179.6" r="4.5" fill="#0000ff" stroke="#000" stroke-width="1.5"/>
<path d="M572.80 1176.30L576.10 1173.00L579.40 1176.30L582.70 1173.00L586.00 1176.30L582.70 1179.60L586.00 1182.90L582.70 1186.20L579.40 1182.90L576.10 1186.20L572.80 1182.90L576.10 1179.60Z" fill="#000" stroke="#000" stroke-width="1.5" stroke-linejoin="miter"/>
<path d="M610.0 1143.8999999999999L619.4 1153.3L610.0 1162.7L600.6 1153.3Z" fill="#008000" stroke="#000" stroke-width="1.5" stroke-linejoin="miter"/>
<path d="M597.7 1152.3999999999999L607.1 1161.8L597.7 1171.2L588.3000000000001 1161.8Z" fill="#ff0000" stroke="#000" stroke-width="1.5" stroke-linejoin="miter"/>
<path d="M458.7 1033.1L468.09999999999997 1042.5L458.7 1051.9L449.3 1042.5Z" fill="#ffa500" stroke="#000" stroke-width="1.5" stroke-linejoin="miter"/>
<rect x="337.4" y="1013.1999999999999" width="12.2" height="12.2" fill="#808080" stroke="#000" stroke-width="1.5"/>
<path d="M379.7 1013.4L386.09999999999997 1026.2L373.3 1026.2Z" fill="#808080" stroke="#000" stroke-width="1.5"/>
<g fill="#000">
<text x="245.7" y="32.5" font-size="26.6">Precision-Recall Curve Expert Curated set</text>
<text x="1285.1" y="32.5" font-size="26.6">Precision-Recall Curve Three Molecular Traits set</text>
<text x="245.6" y="882.4" font-size="26.6">Precision-Recall Curve ExWAS implicated set</text>
<text x="550.3" y="700.6" font-size="18.33" text-anchor="middle">Recall</text>
<text x="1601.4" y="704.0" font-size="18.33" text-anchor="middle">Recall</text>
<text x="603.7" y="1550.7" font-size="18.33" text-anchor="middle">Recall</text>
<text transform="translate(15.0,339.3) rotate(-90)" font-size="18.33" text-anchor="middle">Precision</text>
<text transform="translate(1066.0,342.6) rotate(-90)" font-size="18.33" text-anchor="middle">Precision</text>
<text transform="translate(68.3,1189.4) rotate(-90)" font-size="18.33" text-anchor="middle">Precision</text>
<text x="-1.2" y="23.5" font-size="40.2" font-weight="bold">a</text>
<text x="1048.9" y="32.5" font-size="40.2" font-weight="bold">b</text>
<text x="-1.2" y="873.5" font-size="40.2" font-weight="bold">c</text>
</g>
<rect x="115.7" y="713.0" width="835.4" height="122.9" fill="#fff" stroke="#eeeeee" stroke-width="3"/>
<g font-size="15.28" fill="#000">
<path d="M122.7 737.2h31.2" stroke="#008000" stroke-width="2.3" fill="none"/>
<text x="165.9" y="742.6">FLAMES (0.77)</text>
<path d="M122.7 769.5h31.2" stroke="#ff0000" stroke-width="2.3" fill="none"/>
<text x="165.9" y="765.2">FLAMES</text>
<text x="165.9" y="782.6">path. naive (0.75)</text>
<path d="M122.7 799.0h31.2" stroke="#bf00bf" stroke-width="2.3" fill="none"/>
<text x="165.9" y="804.6">XGB (0.6)</text>
<path d="M122.7 821.6h31.2" stroke="#0000ff" stroke-width="2.3" fill="none"/>
<text x="165.9" y="827.1">L2G (0.73)</text>
<path d="M333.3 737.2h31.2" stroke="#bfbf00" stroke-width="2.3" fill="none"/>
<text x="376.6" y="742.6">cS2G (0.58)</text>
<path d="M348.7 750.3000000000001L358.09999999999997 759.7L348.7 769.1L339.3 759.7Z" fill="#ffa500" stroke="#000" stroke-width="1.5" stroke-linejoin="miter"/>
<text x="376.6" y="765.2">FLAMES recommended</text>
<path d="M348.7 772.8000000000001L358.09999999999997 782.2L348.7 791.6L339.3 782.2Z" fill="#008000" stroke="#000" stroke-width="1.5" stroke-linejoin="miter"/>
<text x="376.6" y="787.7">Highest FLAMES</text>
<path d="M348.7 805.2L358.09999999999997 814.6L348.7 824.0L339.3 814.6Z" fill="#ff0000" stroke="#000" stroke-width="1.5" stroke-linejoin="miter"/>
<text x="376.6" y="810.3">Highest FLAMES</text>
<text x="376.6" y="827.7">path. naive</text>
<circle cx="599.0" cy="737.2" r="4.5" fill="#0000ff" stroke="#000" stroke-width="1.5"/>
<text x="627.3" y="742.6">Highest L2G</text>
<path d="M599.0 753.5L605.4 766.3L592.6 766.3Z" fill="#ffffff" stroke="#000" stroke-width="1.5"/>
<text x="627.3" y="765.2">Highest PoPS</text>
<path d="M599.0 776.0L605.4 788.8L592.6 788.8Z" fill="#808080" stroke="#000" stroke-width="1.5"/>
<text x="627.3" y="787.7">Closest+PoPS</text>
<rect x="592.9" y="808.5" width="12.2" height="12.2" fill="#fff" stroke="#000" stroke-width="1.5"/>
<text x="627.3" y="810.3">Highest PoPS</text>
<text x="627.3" y="827.7">path naive</text>
<rect x="772.1999999999999" y="731.1" width="12.2" height="12.2" fill="#808080" stroke="#000" stroke-width="1.5"/>
<text x="806.2" y="732.9">Closest+PoPS</text>
<text x="806.2" y="750.3">path. naive</text>
<path d="M771.70 763.70L775.00 760.40L778.30 763.70L781.60 760.40L784.90 763.70L781.60 767.00L784.90 770.30L781.60 773.60L778.30 770.30L775.00 773.60L771.70 770.30L775.00 767.00Z" fill="#000" stroke="#000" stroke-width="1.5" stroke-linejoin="miter"/>
<text x="806.2" y="772.4">Closest gene</text>
<path d="M778.30 782.45L784.81 787.18L782.33 794.84L774.27 794.84L771.79 787.18Z" fill="#00bfbf" stroke="#000" stroke-width="1.5"/>
<text x="806.2" y="794.9">Highest MAGMA-Z</text>
<path d="M773.6999999999999 807.0L782.9 816.2M773.6999999999999 816.2L782.9 807.0" stroke="#000" stroke-width="1.7" fill="none"/>
<text x="806.2" y="817.4">Random predictor</text>
</g>
<rect x="1168.1" y="718.8000000000001" width="833.1999999999999" height="121.2" rx="3" fill="#fff" stroke="#cccccc" stroke-width="1.3"/>
<g font-size="15.28" fill="#000">
<path d="M1173.2 741.2h32.6" stroke="#008000" stroke-width="2.3" fill="none"/>
<text x="1217.4" y="746.6">FLAMES (0.74)</text>
<path d="M1173.2 773.5h32.6" stroke="#ff0000" stroke-width="2.3" fill="none"/>
<text x="1217.4" y="769.2">FLAMES</text>
<text x="1217.4" y="786.6">path. naive (0.67)</text>
<path d="M1173.2 803.0h32.6" stroke="#bf00bf" stroke-width="2.3" fill="none"/>
<text x="1217.4" y="808.6">XGB (0.63)</text>
<path d="M1173.2 825.6h32.6" stroke="#0000ff" stroke-width="2.3" fill="none"/>
<text x="1217.4" y="831.1">L2G (0.67)</text>
<path d="M1383.8 741.2h32.6" stroke="#bfbf00" stroke-width="2.3" fill="none"/>
<text x="1428.1" y="746.6">cS2G (0.21)</text>
<path d="M1400.2 754.3000000000001L1409.6000000000001 763.7L1400.2 773.1L1390.8 763.7Z" fill="#ffa500" stroke="#000" stroke-width="1.5" stroke-linejoin="miter"/>
<text x="1428.1" y="769.2">FLAMES recommended</text>
<path d="M1400.2 776.8000000000001L1409.6000000000001 786.2L1400.2 795.6L1390.8 786.2Z" fill="#008000" stroke="#000" stroke-width="1.5" stroke-linejoin="miter"/>
<text x="1428.1" y="791.7">Highest FLAMES</text>
<path d="M1400.2 809.2L1409.6000000000001 818.6L1400.2 828.0L1390.8 818.6Z" fill="#ff0000" stroke="#000" stroke-width="1.5" stroke-linejoin="miter"/>
<text x="1428.1" y="814.3">Highest FLAMES</text>
<text x="1428.1" y="831.7">path. naive</text>
<circle cx="1650.5" cy="741.2" r="4.5" fill="#0000ff" stroke="#000" stroke-width="1.5"/>
<text x="1678.8" y="746.6">Highest L2G</text>
<path d="M1650.5 757.5L1656.9 770.3L1644.1 770.3Z" fill="#ffffff" stroke="#000" stroke-width="1.5"/>
<text x="1678.8" y="769.2">Highest PoPS</text>
<path d="M1650.5 780.0L1656.9 792.8L1644.1 792.8Z" fill="#808080" stroke="#000" stroke-width="1.5"/>
<text x="1678.8" y="791.7">Closest+PoPS</text>
<rect x="1644.4" y="812.5" width="12.2" height="12.2" fill="#fff" stroke="#000" stroke-width="1.5"/>
<text x="1678.8" y="814.3">Highest PoPS</text>
<text x="1678.8" y="831.7">path naive</text>
<rect x="1823.7" y="735.1" width="12.2" height="12.2" fill="#808080" stroke="#000" stroke-width="1.5"/>
<text x="1857.7" y="736.9">Closest+PoPS</text>
<text x="1857.7" y="754.3">path. naive</text>
<path d="M1823.20 767.70L1826.50 764.40L1829.80 767.70L1833.10 764.40L1836.40 767.70L1833.10 771.00L1836.40 774.30L1833.10 777.60L1829.80 774.30L1826.50 777.60L1823.20 774.30L1826.50 771.00Z" fill="#000" stroke="#000" stroke-width="1.5" stroke-linejoin="miter"/>
<text x="1857.7" y="776.4">Closest gene</text>
<path d="M1829.80 786.45L1836.31 791.18L1833.83 798.84L1825.77 798.84L1823.29 791.18Z" fill="#00bfbf" stroke="#000" stroke-width="1.5"/>
<text x="1857.7" y="798.9">Highest MAGMA-Z</text>
<path d="M1825.2 811.0L1834.3999999999999 820.2M1825.2 820.2L1834.3999999999999 811.0" stroke="#000" stroke-width="1.7" fill="none"/>
<text x="1857.7" y="821.4">Random predictor</text>
</g>
<rect x="169.1" y="1563.9" width="835.4" height="122.9" fill="#fff" stroke="#eeeeee" stroke-width="3"/>
<g font-size="15.28" fill="#000">
<path d="M176.2 1587.5h31.2" stroke="#008000" stroke-width="2.3" fill="none"/>
<text x="219.4" y="1592.9">FLAMES (0.55)</text>
<path d="M176.2 1619.8h31.2" stroke="#ff0000" stroke-width="2.3" fill="none"/>
<text x="219.4" y="1615.5">FLAMES</text>
<text x="219.4" y="1632.9">path. naive (0.53)</text>
<path d="M176.2 1649.3h31.2" stroke="#bf00bf" stroke-width="2.3" fill="none"/>
<text x="219.4" y="1654.9">XGB (0.44)</text>
<path d="M176.2 1671.9h31.2" stroke="#0000ff" stroke-width="2.3" fill="none"/>
<text x="219.4" y="1677.4">L2G (0.47)</text>
<path d="M386.8 1587.5h31.2" stroke="#bfbf00" stroke-width="2.3" fill="none"/>
<text x="430.1" y="1592.9">cS2G (0.29)</text>
<path d="M402.2 1600.6L411.59999999999997 1610.0L402.2 1619.4L392.8 1610.0Z" fill="#ffa500" stroke="#000" stroke-width="1.5" stroke-linejoin="miter"/>
<text x="430.1" y="1615.5">FLAMES recommended</text>
<path d="M402.2 1623.1L411.59999999999997 1632.5L402.2 1641.9L392.8 1632.5Z" fill="#008000" stroke="#000" stroke-width="1.5" stroke-linejoin="miter"/>
<text x="430.1" y="1638.0">Highest FLAMES</text>
<path d="M402.2 1655.5L411.59999999999997 1664.9L402.2 1674.3000000000002L392.8 1664.9Z" fill="#ff0000" stroke="#000" stroke-width="1.5" stroke-linejoin="miter"/>
<text x="430.1" y="1660.6">Highest FLAMES</text>
<text x="430.1" y="1678.0">path. naive</text>
<circle cx="652.5" cy="1587.5" r="4.5" fill="#0000ff" stroke="#000" stroke-width="1.5"/>
<text x="680.8" y="1592.9">Highest L2G</text>
<path d="M652.5 1603.7999999999997L658.9 1616.6L646.1 1616.6Z" fill="#ffffff" stroke="#000" stroke-width="1.5"/>
<text x="680.8" y="1615.5">Highest PoPS</text>
<path d="M652.5 1626.2999999999997L658.9 1639.1L646.1 1639.1Z" fill="#808080" stroke="#000" stroke-width="1.5"/>
<text x="680.8" y="1638.0">Closest+PoPS</text>
<rect x="646.4" y="1658.8000000000002" width="12.2" height="12.2" fill="#fff" stroke="#000" stroke-width="1.5"/>
<text x="680.8" y="1660.6">Highest PoPS</text>
<text x="680.8" y="1678.0">pat. naive</text>
<rect x="825.6999999999999" y="1581.4" width="12.2" height="12.2" fill="#808080" stroke="#000" stroke-width="1.5"/>
<text x="859.7" y="1583.2">Closest+PoPS</text>
<text x="859.7" y="1600.6">path. naive</text>
<path d="M825.20 1614.00L828.50 1610.70L831.80 1614.00L835.10 1610.70L838.40 1614.00L835.10 1617.30L838.40 1620.60L835.10 1623.90L831.80 1620.60L828.50 1623.90L825.20 1620.60L828.50 1617.30Z" fill="#000" stroke="#000" stroke-width="1.5" stroke-linejoin="miter"/>
<text x="859.7" y="1622.7">Closest gene</text>
<path d="M831.80 1632.75L838.31 1637.48L835.83 1645.14L827.77 1645.14L825.29 1637.48Z" fill="#00bfbf" stroke="#000" stroke-width="1.5"/>
<text x="859.7" y="1645.2">Highest MAGMA-Z</text>
<path d="M827.1999999999999 1657.3000000000002L836.4 1666.5M827.1999999999999 1666.5L836.4 1657.3000000000002" stroke="#000" stroke-width="1.7" fill="none"/>
<text x="859.7" y="1667.7">Random predictor</text>
</g>
</svg>
</body></html>
